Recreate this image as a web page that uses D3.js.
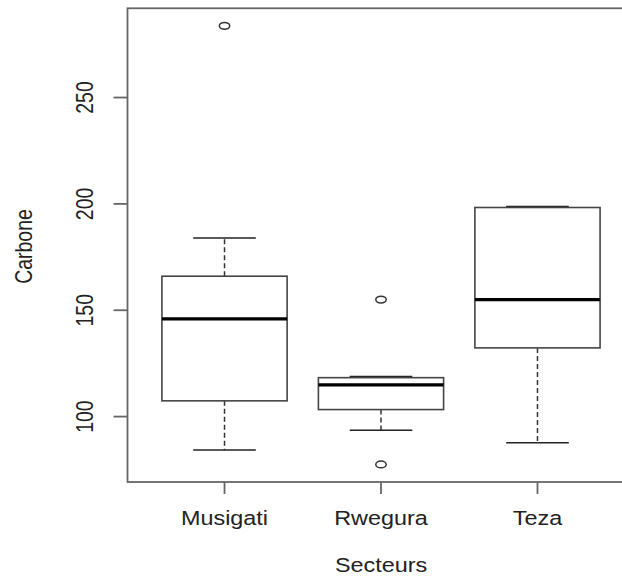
<!DOCTYPE html>
<html>
<head>
<meta charset="utf-8">
<script src="https://cdn.jsdelivr.net/npm/d3@7"></script>
<style>
  body { margin: 0; background: #fff; }
  text { font-family: "Liberation Sans", Arial, sans-serif; fill: #222; }
</style>
</head>
<body>
<div id="chart-area"></div>
<script>
// data
let secteurs = ["Musigati", "Rwegura", "Teza"];
let whiskerLow = [84.3, 93.6, 87.7];
let q1 = [107.4, 103.3, 132.3];
let mediane = [145.9, 114.9, 155.0];
let q3 = [166.0, 118.3, 198.3];
let whiskerHigh = [184.0, 118.9, 198.8];
let outliers = [[283.7], [155.0, 77.5], []];
let yTicks = [100, 150, 200, 250];

let data = secteurs.map(function(s, i) {
  return {name: s, pos: i + 1, lo: whiskerLow[i], q1: q1[i], med: mediane[i],
          q3: q3[i], hi: whiskerHigh[i], out: outliers[i]};
});

// Variables
let w = 622;
let h = 578;
let sx = 1.2;   // picture is stretched horizontally
let fs = "19.5px";

let svg = d3.select("#chart-area")
    .append("svg")
    .attr("width", w)
    .attr("height", h);

// scales (R style: 4% padding)
let x = d3.scaleLinear()
    .domain([0.38, 3.62])
    .range([127.5, 634.5]);

let y = d3.scaleLinear()
    .domain([69.25, 291.95])
    .range([482, 8.3]);

let boxHalf = 0.4;
let capHalf = 0.2;

// frame
svg.append("rect")
    .attr("x", x(0.38))
    .attr("y", y(291.95))
    .attr("width", x(3.62) - x(0.38))
    .attr("height", y(69.25) - y(291.95))
    .attr("fill", "none")
    .attr("stroke", "#666")
    .attr("stroke-width", 1.8);

// y axis ticks
svg.selectAll(".ytick")
    .data(yTicks)
    .enter()
    .append("line")
    .attr("x1", x(0.38) - 14)
    .attr("x2", x(0.38))
    .attr("y1", function(d) { return y(d); })
    .attr("y2", function(d) { return y(d); })
    .attr("stroke", "#666")
    .attr("stroke-width", 1.8);

svg.selectAll(".ylab")
    .data(yTicks)
    .enter()
    .append("text")
    .text(function(d) { return d; })
    .attr("font-size", fs)
    .attr("text-anchor", "middle")
    .attr("transform", function(d) { return "translate(93," + y(d) + ") scale(" + sx + ",1) rotate(-90)"; });

// x axis ticks
svg.selectAll(".xtick")
    .data(data)
    .enter()
    .append("line")
    .attr("x1", function(d) { return x(d.pos); })
    .attr("x2", function(d) { return x(d.pos); })
    .attr("y1", y(69.25))
    .attr("y2", y(69.25) + 12)
    .attr("stroke", "#666")
    .attr("stroke-width", 1.8);

svg.selectAll(".xlab")
    .data(data)
    .enter()
    .append("text")
    .text(function(d) { return d.name; })
    .attr("font-size", fs)
    .attr("text-anchor", "middle")
    .attr("transform", function(d) { return "translate(" + x(d.pos) + ",525) scale(" + sx + ",1)"; });

// axis titles
svg.append("text")
    .text("Secteurs")
    .attr("font-size", fs)
    .attr("text-anchor", "middle")
    .attr("transform", "translate(" + x(2) + ",571.5) scale(" + sx + ",1)");

svg.append("text")
    .text("Carbone")
    .attr("font-size", fs)
    .attr("text-anchor", "middle")
    .attr("transform", "translate(31.5,246.5) scale(" + sx + ",1) rotate(-90)");

// boxes
let g = svg.selectAll(".box")
    .data(data)
    .enter()
    .append("g");

// dashed whiskers
g.append("line")
    .attr("x1", function(d) { return x(d.pos); })
    .attr("x2", function(d) { return x(d.pos); })
    .attr("y1", function(d) { return y(d.q3); })
    .attr("y2", function(d) { return y(d.hi); })
    .attr("stroke", "#333")
    .attr("stroke-width", 1.5)
    .attr("stroke-dasharray", "5,3");

g.append("line")
    .attr("x1", function(d) { return x(d.pos); })
    .attr("x2", function(d) { return x(d.pos); })
    .attr("y1", function(d) { return y(d.q1); })
    .attr("y2", function(d) { return y(d.lo); })
    .attr("stroke", "#333")
    .attr("stroke-width", 1.5)
    .attr("stroke-dasharray", "5,3");

// whisker caps
g.append("line")
    .attr("x1", function(d) { return x(d.pos - capHalf); })
    .attr("x2", function(d) { return x(d.pos + capHalf); })
    .attr("y1", function(d) { return y(d.hi); })
    .attr("y2", function(d) { return y(d.hi); })
    .attr("stroke", "#222")
    .attr("stroke-width", 1.5);

g.append("line")
    .attr("x1", function(d) { return x(d.pos - capHalf); })
    .attr("x2", function(d) { return x(d.pos + capHalf); })
    .attr("y1", function(d) { return y(d.lo); })
    .attr("y2", function(d) { return y(d.lo); })
    .attr("stroke", "#222")
    .attr("stroke-width", 1.5);

// box
g.append("rect")
    .attr("x", function(d) { return x(d.pos - boxHalf); })
    .attr("y", function(d) { return y(d.q3); })
    .attr("width", function(d) { return x(d.pos + boxHalf) - x(d.pos - boxHalf); })
    .attr("height", function(d) { return y(d.q1) - y(d.q3); })
    .attr("fill", "none")
    .attr("stroke", "#444")
    .attr("stroke-width", 1.6);

// median
g.append("line")
    .attr("x1", function(d) { return x(d.pos - boxHalf); })
    .attr("x2", function(d) { return x(d.pos + boxHalf); })
    .attr("y1", function(d) { return y(d.med); })
    .attr("y2", function(d) { return y(d.med); })
    .attr("stroke", "#000")
    .attr("stroke-width", 3.2);

// outliers
g.selectAll("ellipse")
    .data(function(d) { return d.out.map(function(v) { return {pos: d.pos, v: v}; }); })
    .enter()
    .append("ellipse")
    .attr("cx", function(d) { return x(d.pos); })
    .attr("cy", function(d) { return y(d.v); })
    .attr("rx", 5.2)
    .attr("ry", 3.4)
    .attr("fill", "none")
    .attr("stroke", "#333")
    .attr("stroke-width", 1.5);
</script>
</body>
</html>
